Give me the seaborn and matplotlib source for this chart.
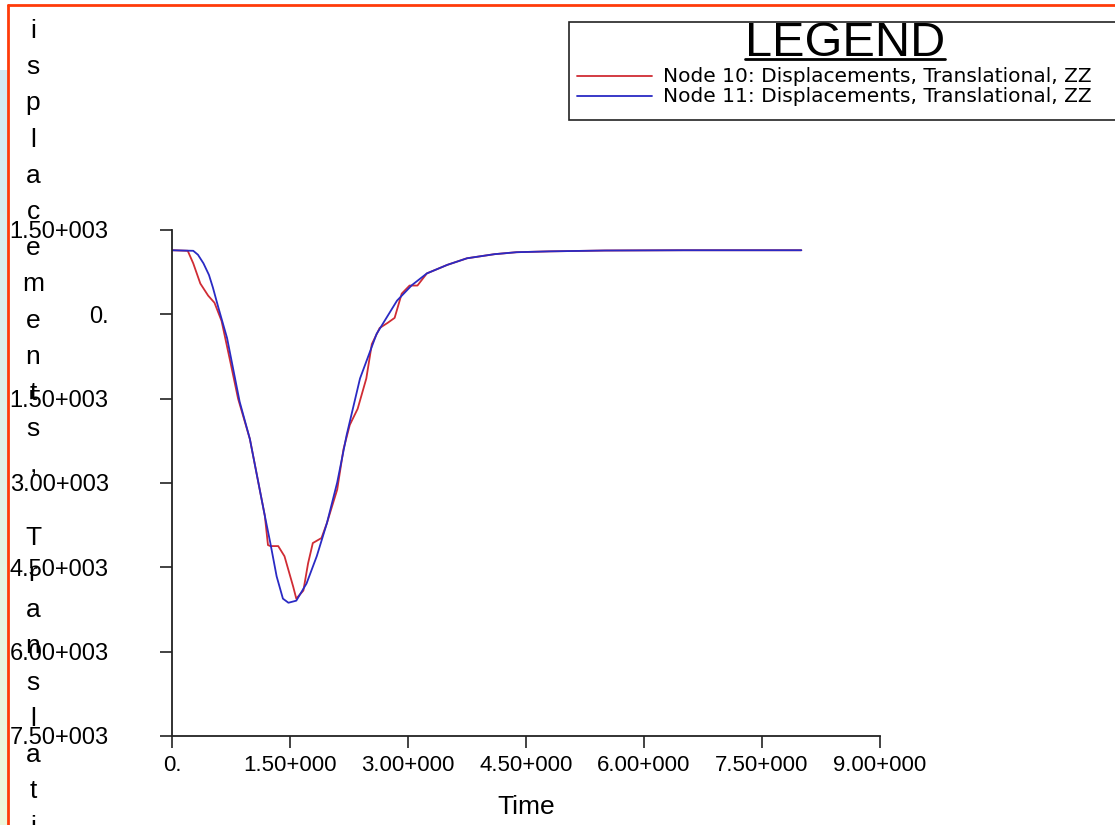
import numpy as np
import pandas as pd
import matplotlib.pyplot as plt
import seaborn as sns
from matplotlib.lines import Line2D
from matplotlib.patches import Rectangle

# Node 10 (red) - time / displacement
time_n10 = [0, 0.20, 0.27, 0.36, 0.46, 0.54, 0.63, 0.74, 0.84, 0.99, 1.08, 1.18, 1.22, 1.25,
            1.35, 1.43, 1.54, 1.58, 1.67, 1.73, 1.79, 1.90, 1.97, 2.10, 2.18, 2.26, 2.36, 2.47,
            2.54, 2.64, 2.74, 2.83, 2.92, 3.02, 3.12, 3.24, 3.50, 3.75, 4.10, 4.38, 4.80, 5.50,
            6.50, 8.00]
disp_n10 = [1140, 1130, 907, 548, 332, 206, -117, -835, -1500, -2218, -2865, -3583, -4104, -4122,
            -4122, -4303, -4841, -5057, -4913, -4428, -4068, -3979, -3710, -3117, -2398, -1967,
            -1680, -1141, -530, -243, -153, -63, 368, 512, 512, 728, 880, 997, 1070, 1105, 1120,
            1135, 1140, 1140]

# Node 11 (blue)
time_n11 = [0, 0.27, 0.33, 0.40, 0.47, 0.52, 0.59, 0.70, 0.86, 0.99, 1.08, 1.18, 1.25, 1.33,
            1.41, 1.48, 1.58, 1.71, 1.84, 1.97, 2.10, 2.22, 2.39, 2.60, 2.86, 3.05, 3.24, 3.50,
            3.75, 4.10, 4.38, 4.80, 5.50, 6.50, 8.00]
disp_n11 = [1140, 1130, 1060, 907, 700, 476, 117, -422, -1554, -2218, -2865, -3583, -4068, -4660,
            -5057, -5130, -5093, -4788, -4303, -3710, -2991, -2147, -1141, -350, 243, 520, 728,
            880, 997, 1070, 1105, 1120, 1135, 1140, 1140]

x_ticks = [0, 1.5, 3.0, 4.5, 6.0, 7.5, 9.0]
x_labels = ["0.", "1.50+000", "3.00+000", "4.50+000", "6.00+000", "7.50+000", "9.00+000"]
y_ticks = [1500, 0, -1500, -3000, -4500, -6000, -7500]
y_labels = ["1.50+003", "0.", "1.50+003", "3.00+003", "4.50+003", "6.00+003", "7.50+003"]

legend_labels = ["Node 10: Displacements, Translational, ZZ",
                 "Node 11: Displacements, Translational, ZZ"]
# the leading "D" is off the top of the screenshot
y_title = "isplacements, Translati"

RED = "#d02c34"
BLUE = "#2a2ac4"

sns.set_theme(style="white")
plt.rcParams["font.family"] = ["Liberation Sans", "DejaVu Sans"]
plt.rcParams["text.color"] = "black"
plt.rcParams["axes.labelcolor"] = "black"

W, H = 1115, 825
fig = plt.figure(figsize=(W / 100, H / 100), dpi=100)
fig.patch.set_facecolor("white")


def fx(x):
    return x / W


def fy(y):
    return 1 - y / H


# light strip at the far left of the screenshot
strip = fig.add_axes([0, 0, 8 / W, 1])
grad = np.ones((H, 1, 3))
t = np.linspace(0, 1, H - 70)[:, None]
grad[70:, 0, :] = (1 - t) * np.array([0.83, 0.92, 0.96]) + t * np.array([0.94, 0.97, 0.86])
strip.imshow(grad, aspect="auto", extent=[0, 1, 0, 1])
strip.axis("off")

ax = fig.add_axes([fx(172), fy(736), fx(880) - fx(172), fy(230) - fy(736)])
sns.lineplot(x=time_n10, y=disp_n10, color=RED, lw=1.3, estimator=None, sort=False, ax=ax)
sns.lineplot(x=time_n11, y=disp_n11, color=BLUE, lw=1.3, estimator=None, sort=False, ax=ax)

ax.set_xlim(0, 9)
ax.set_ylim(-7500, 1500)
ax.set_xticks(x_ticks)
ax.set_xticklabels(x_labels, fontsize=16)
ax.set_yticks(y_ticks)
ax.set_yticklabels(y_labels, fontsize=17)
ax.tick_params(axis="both", direction="out", length=8.6, width=1.2, color="#222222",
               labelcolor="black", left=True, bottom=True)
ax.tick_params(axis="y", pad=37)
ax.tick_params(axis="x", pad=5)
for side in ["top", "right"]:
    ax.spines[side].set_visible(False)
for side in ["left", "bottom"]:
    ax.spines[side].set_color("#222222")
    ax.spines[side].set_linewidth(1.3)
ax.set_facecolor("white")
ax.set_xlabel("Time", fontsize=19, labelpad=14)
ax.set_ylabel("")

# vertical, letter-by-letter y title
for k, ch in enumerate(y_title):
    fig.text(fx(33), fy(38 + 36.2 * k), ch, ha="center", va="baseline", fontsize=19)

# legend box, drawn as in the original screenshot
fig.add_artist(Rectangle((fx(569), fy(120)), 1.2, fy(22) - fy(120), transform=fig.transFigure,
                         facecolor="white", edgecolor="#222222", lw=1.2))
fig.text(fx(845), fy(56), "LEGEND", ha="center", va="baseline", fontsize=35)
fig.add_artist(Line2D([fx(745), fx(945)], [fy(59), fy(59)], transform=fig.transFigure,
                      color="black", lw=2))
for lab, col, yy in zip(legend_labels, [RED, BLUE], [76, 96]):
    fig.add_artist(Line2D([fx(577), fx(652)], [fy(yy), fy(yy)], transform=fig.transFigure,
                          color=col, lw=1.3))
    fig.text(fx(663), fy(yy), lab, ha="left", va="center", fontsize=14.5,
             family=["DejaVu Sans"])

# orange frame of the screenshot
fig.add_artist(Line2D([fx(8), fx(8)], [fy(5), 0], transform=fig.transFigure, color="#ff3b0a", lw=2))
fig.add_artist(Line2D([fx(8), 1], [fy(5), fy(5)], transform=fig.transFigure, color="#ff3b0a", lw=2))

fig.savefig("out.png", dpi=100)
